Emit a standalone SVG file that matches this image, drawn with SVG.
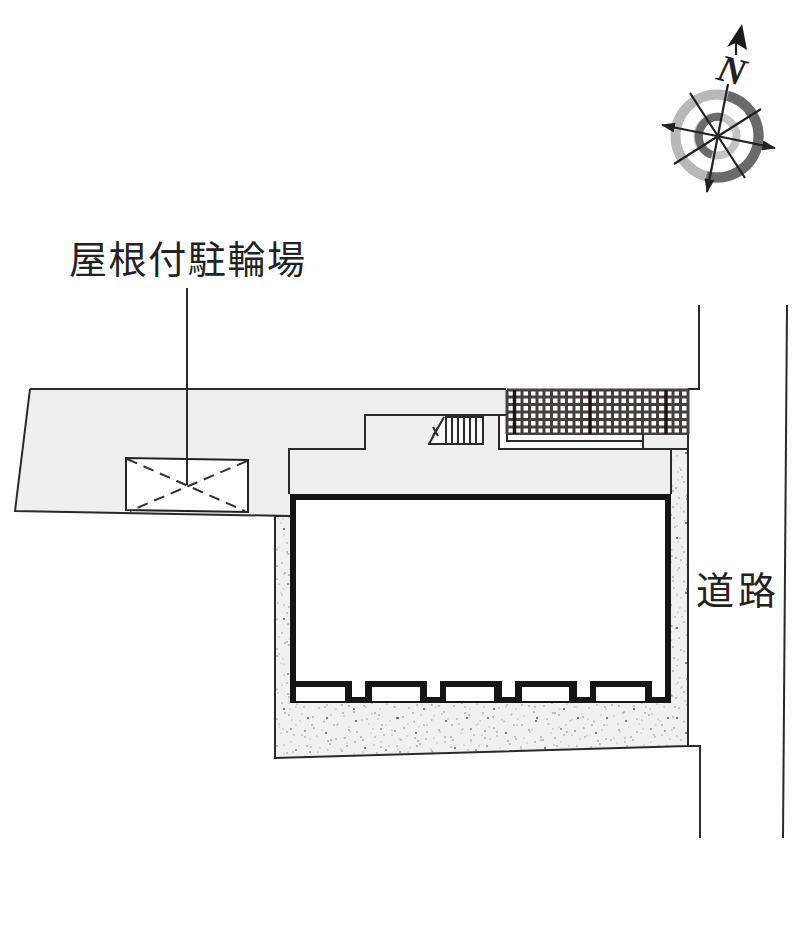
<svg xmlns="http://www.w3.org/2000/svg" width="800" height="940" viewBox="0 0 800 940">
<style>
.ln{fill:none;stroke:#2a2a2a;stroke-width:2}
.lbl{font-family:"Noto Sans CJK JP","Liberation Sans",sans-serif;font-size:38px;fill:#222}
.gl{fill:none;stroke:#444040;stroke-width:3}
.gd{fill:none;stroke:#1c1515;stroke-width:3.500}
</style>
<defs>
<pattern id="st" width="90" height="70" patternUnits="userSpaceOnUse">
<g fill="#777">
<circle cx="4" cy="6" r=".7"/><circle cx="15" cy="13" r=".8"/><circle cx="27" cy="4" r=".6"/><circle cx="38" cy="18" r=".9" fill="#444"/><circle cx="49" cy="8" r=".7"/><circle cx="61" cy="15" r=".6"/><circle cx="72" cy="5" r=".8"/><circle cx="84" cy="12" r=".7"/>
<circle cx="9" cy="24" r=".6"/><circle cx="21" cy="29" r=".9"/><circle cx="32" cy="35" r=".6"/><circle cx="44" cy="28" r=".7"/><circle cx="56" cy="33" r=".9" fill="#444"/><circle cx="67" cy="25" r=".6"/><circle cx="79" cy="30" r=".8"/>
<circle cx="3" cy="40" r=".8"/><circle cx="14" cy="45" r=".6"/><circle cx="26" cy="50" r=".8" fill="#444"/><circle cx="37" cy="46" r=".7"/><circle cx="48" cy="52" r=".6"/><circle cx="60" cy="44" r=".8"/><circle cx="71" cy="49" r=".6"/><circle cx="85" cy="42" r=".7"/>
<circle cx="7" cy="59" r=".6"/><circle cx="18" cy="64" r=".8"/><circle cx="31" cy="60" r=".6"/><circle cx="42" cy="66" r=".8"/><circle cx="54" cy="62" r=".7"/><circle cx="65" cy="60" r=".9" fill="#444"/><circle cx="77" cy="65" r=".6"/><circle cx="87" cy="56" r=".7"/>
<circle cx="20" cy="9" r=".5"/><circle cx="54" cy="21" r=".5"/><circle cx="74" cy="38" r=".5"/><circle cx="40" cy="39" r=".5"/><circle cx="11" cy="33" r=".5"/><circle cx="66" cy="9" r=".5"/><circle cx="35" cy="56" r=".5"/>
</g>
</pattern>
<pattern id="st2" href="#st" patternTransform="translate(37 23) rotate(90)"/>
<pattern id="st3" href="#st" patternTransform="translate(61 11) rotate(180)"/>
<marker id="ah" markerWidth="15" markerHeight="10" refX="13" refY="5" orient="auto" markerUnits="userSpaceOnUse"><path d="M0 0L14 5L0 10Z" fill="#222"/></marker>
</defs>
<rect width="800" height="940" fill="#fff"/>

<g id="site-paved">
<path d="M30 389H506V434H688V449H671V494H290V516L15 511Z" fill="#efefef"/>
<path d="M500 416H506V441H643V448H500Z" fill="#fafafa"/>
<path d="M30 389H506M30 389L15 511L290 516" class="ln"/>
<path d="M506 415H365V449H289V494" class="ln"/>
<path d="M499 415V449H643" class="ln"/>
</g>

<g id="planting">
<path id="pl" d="M275 516L274 758L688 746V449H671V494H292V516Z" fill="#f0f0f0"/>
<path d="M275 516L274 758L688 746V449H671V494H292V516Z" fill="url(#st)"/>
<path d="M275 516L274 758L688 746V449H671V494H292V516Z" fill="url(#st2)"/>
<path d="M275 516L274 758L688 746V449H671V494H292V516Z" fill="url(#st3)"/>
<path d="M275 516V758M274 758L688 746M688 746V434M671 449V494M643 449H688" class="ln"/>
<path d="M275 516H291" class="ln"/>
</g>

<g id="boundary-road">
<path d="M699 305V389H688M688 746H700V838" class="ln"/>
<path d="M787 305L783 838" class="ln"/>
</g>

<g id="mesh">
<rect x="507" y="390" width="181" height="44" fill="#fff"/>
<path class="gl" d="M507 390H688M507 397H688M507 404.500H688M507 412H688M507 419.500H688M507 427H688M507 434H688"/>
<path class="gl" d="M507 390V434M522 390V434M529.500 390V434M537 390V434M544 390V434M551.500 390V434M559 390V434M566.500 390V434M574 390V434M581.500 390V434M597.500 390V434M605 390V434M612.500 390V434M620 390V434M627.500 390V434M635 390V434M642.500 390V434M650 390V434M657.500 390V434M673 390V434M680.500 390V434M688 390V434"/>
<path class="gd" d="M514.500 390V434M590 390V434M666 390V434"/>
<rect x="507" y="435" width="136" height="6" fill="#fff"/>
<path d="M507 434V441H643M643 434V449" class="ln"/>
<rect x="644" y="435" width="43" height="13" fill="#efefef"/>
</g>

<g id="stairs">
<path d="M444 417H484V444H428Z" fill="#f8f8f8"/>
<path d="M445 417H484M428 444H484" class="ln" stroke-width="3"/>
<path d="M444 417L429 444M433 427L438 436M438 427L433 436" class="ln" stroke-width="2.500"/>
<path d="M446 417V444M452 417V444M458 417V444M464 417V444M470 417V444M476 417V444M483 417V444" class="ln" stroke="#444"/>
</g>

<g id="building">
<rect x="290" y="494" width="381" height="209" fill="#151515"/>
<path d="M296 500H665V697H652V681H590V697H577V681H515V697H502V681H440V697H427V681H365V697H352V681H296Z" fill="#fff"/>
<rect x="296" y="687" width="49" height="14" fill="#fff"/>
<rect x="372" y="687" width="48" height="14" fill="#fff"/>
<rect x="446" y="687" width="48" height="14" fill="#fff"/>
<rect x="522" y="687" width="47" height="14" fill="#fff"/>
<rect x="596" y="687" width="49" height="14" fill="#fff"/>
</g>

<g id="bike-parking">
<path d="M126 458L248 460V512L126 510Z" fill="#fff" stroke="#222" stroke-width="2"/>
<path d="M127 459L245 511M247 461L130 511" fill="none" stroke="#333" stroke-width="2" stroke-dasharray="11 7"/>
</g>

<g id="connectors">
<path d="M187 288V485" class="ln"/>
</g>

<g id="labels">
<text class="lbl" x="69" y="273" textLength="236" lengthAdjust="spacing">屋根付駐輪場</text>
<text class="lbl" x="696" y="604" textLength="80" lengthAdjust="spacing">道路</text>
</g>

<g id="compass">
<circle cx="717" cy="136" r="41.500" fill="none" stroke="#b8b8b8" stroke-width="10"/>
<path d="M727.700 95.900A41.500 41.500 0 0 1 706.300 176.100" fill="none" stroke="#6a6a6a" stroke-width="10"/>
<circle cx="717" cy="136" r="19.500" fill="none" stroke="#c4c4c4" stroke-width="8"/>
<path d="M722 117.200A19.500 19.500 0 0 0 712 154.800" fill="none" stroke="#6a6a6a" stroke-width="8"/>
<g fill="none" stroke="#222" stroke-width="2.200">
<path d="M728 84L707 192" marker-end="url(#ah)"/>
<path d="M717 136L662 125" marker-end="url(#ah)"/>
<path d="M717 136L775 148" marker-end="url(#ah)"/>
<path d="M690 93L745 178M761 109L674 164"/>
<path d="M736 43V55"/>
</g>
<path d="M742 24L727 47L735.500 43L747 50Z" fill="#1a1a1a"/>
<text x="732" y="83" transform="rotate(15 732 70)" text-anchor="middle" font-family="Liberation Serif,serif" font-weight="bold" font-style="italic" font-size="38" fill="#222">N</text>
</g>
</svg>
